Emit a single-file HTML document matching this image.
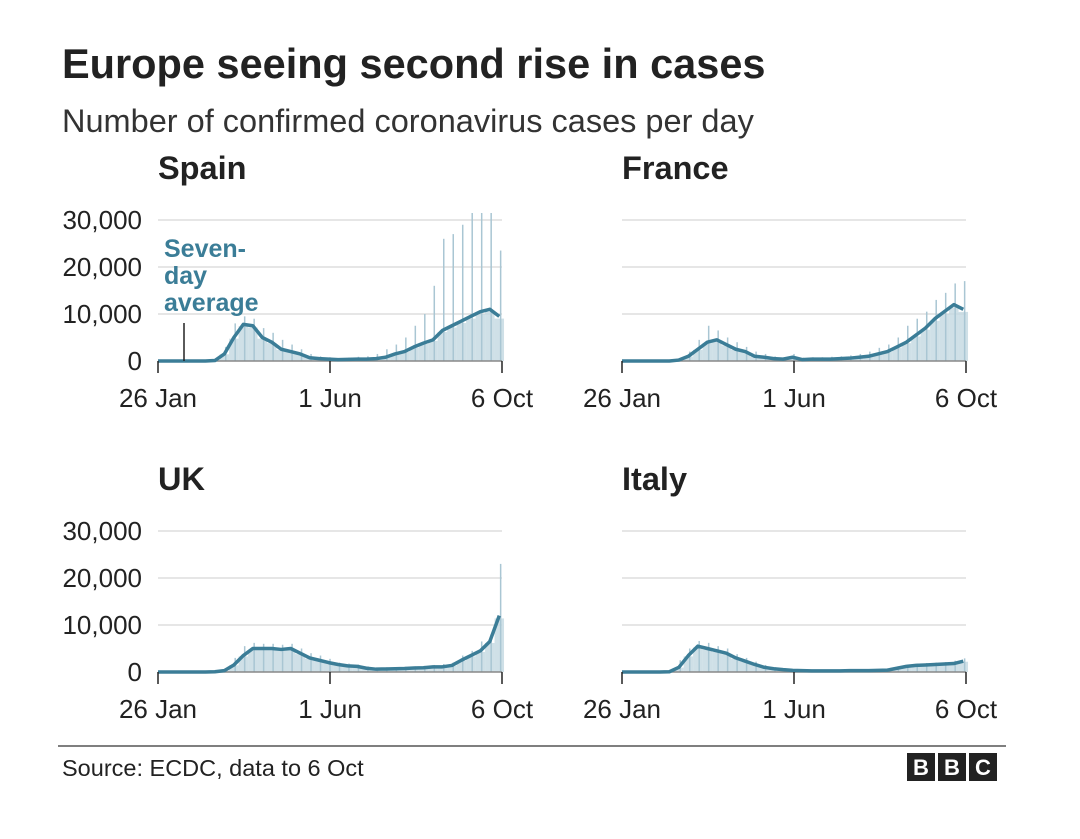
<!DOCTYPE html>
<html><head><meta charset="utf-8">
<style>
body{margin:0;background:#fff;width:1080px;height:834px;overflow:hidden;font-family:"Liberation Sans",Arial,sans-serif;}
</style></head>
<body>
<svg width="1080" height="834" viewBox="0 0 1080 834" xmlns="http://www.w3.org/2000/svg" font-family="Liberation Sans, Arial, sans-serif">
<text x="62" y="78" font-size="41.5" font-weight="bold" fill="#222">Europe seeing second rise in cases</text>
<text x="62" y="132" font-size="32.5" fill="#333">Number of confirmed coronavirus cases per day</text>
<g id="panels"></g>
<line x1="58" y1="746" x2="1006" y2="746" stroke="#555" stroke-width="1.5"/>
<text x="62" y="776" font-size="23.5" fill="#222">Source: ECDC, data to 6 Oct</text>
<g>
<rect x="907" y="753" width="28" height="28" fill="#222"/><text x="921" y="775" font-size="22" font-weight="bold" fill="#fff" text-anchor="middle">B</text>
<rect x="938" y="753" width="28" height="28" fill="#222"/><text x="952" y="775" font-size="22" font-weight="bold" fill="#fff" text-anchor="middle">B</text>
<rect x="969" y="753" width="28" height="28" fill="#222"/><text x="983" y="775" font-size="22" font-weight="bold" fill="#fff" text-anchor="middle">C</text>
</g>
</svg>
<script>
const countries = ["Spain","France","UK","Italy"];
const tickLabels = ["26 Jan","1 Jun","6 Oct"];
const tickDays = [0,127,254];
const yTicks = [0,10000,20000,30000];
const yTickLabels = ["0","10,000","20,000","30,000"];
const spainAvg = [0,0,0,0,0,0,100,1500,5000,7800,7500,5000,4000,2500,2000,1500,700,500,400,300,350,400,400,500,800,1500,2000,3000,3800,4500,6500,7500,8500,9500,10500,11000,9500];
const spainMax = [0,0,0,0,0,0,500,3000,8000,9500,9000,7000,6000,4500,3500,2500,1500,1000,800,600,700,900,1000,1500,2500,3500,5000,7500,10000,16000,26000,27000,29000,31500,31500,31500,23500];
const franceAvg = [0,0,0,0,0,0,200,1000,2500,4000,4500,3500,2500,2000,1000,800,500,400,800,300,400,400,400,500,600,800,1000,1500,2000,3000,4000,5500,7000,9000,10500,12000,11000];
const franceMax = [0,0,0,0,0,0,500,2000,4500,7500,6500,5000,4000,3000,2000,1500,1000,800,1500,700,800,800,900,1000,1200,1500,2000,2800,3500,5000,7500,9000,10500,13000,14500,16500,17000];
const ukAvg = [0,0,0,0,0,0,50,300,1500,3500,5000,5000,5000,4800,5000,4000,3000,2500,2000,1600,1300,1200,800,600,650,700,750,850,900,1100,1100,1400,2500,3500,4500,6500,12000];
const ukMax = [0,0,0,0,0,0,100,700,3000,5500,6200,6000,6000,5800,6000,5000,4000,3500,2800,2000,1800,1600,1200,900,1000,1000,1100,1200,1300,1500,1700,2000,3500,4500,6500,8000,23000];
const italyAvg = [0,0,0,0,0,50,1000,3500,5500,5000,4500,4000,3000,2300,1600,1000,700,500,350,300,250,250,250,250,300,300,300,350,400,800,1200,1400,1500,1600,1700,1800,2300];
const italyMax = [0,0,0,0,0,300,2500,5000,6600,6200,5500,5000,3800,3000,2200,1500,1000,800,600,500,400,400,400,400,450,450,450,500,600,1200,1600,1800,1900,2000,2100,2400,2900];
const avgSeries = [spainAvg,franceAvg,ukAvg,italyAvg];
const maxSeries = [spainMax,franceMax,ukMax,italyMax];
const NS="http://www.w3.org/2000/svg";
const panelsG=document.getElementById('panels');
const origins=[[158,361],[622,361],[158,672],[622,672]];
const W=344, totalDays=254, yMax=30000, H=141;
function mk(tag,attrs,parent){const e=document.createElementNS(NS,tag);for(const k in attrs)e.setAttribute(k,attrs[k]);parent.appendChild(e);return e;}
countries.forEach((c,i)=>{
  const [x0,y0]=origins[i];
  const xs=d=>x0+d/totalDays*W;
  const ys=v=>y0-v/yMax*H;
  const g=mk('g',{},panelsG);
  
  
  const t=mk('text',{x:x0,y:y0-182,'font-size':32.5,'font-weight':'bold',fill:'#222'},g);
  t.textContent=c;
  
  
  yTicks.forEach((v,j)=>{
    if(v>0){const l=mk('line',{x1:x0,x2:x0+W,y1:ys(v),y2:ys(v),stroke:'#ccc','stroke-width':1},g);
      
      }
    if(i%2===0){const tt=mk('text',{x:x0-16,y:ys(v)+9,'font-size':26,fill:'#222','text-anchor':'end'},g);
      tt.textContent=yTickLabels[j];
      
      }
  });
  const bars=mk('g',{},g);
  
  
  const av=avgSeries[i], mx=maxSeries[i];
  av.forEach((v,w)=>{
    const d=w*7;
    if(v>0){const r=mk('rect',{x:xs(d-3.5),y:ys(v*0.95),width:W*7/totalDays,height:y0-ys(v*0.95),fill:'#c3d8e1',opacity:0.8},bars);
      
      }
    if(mx[w]>0){const l=mk('line',{x1:xs(d+1),x2:xs(d+1),y1:y0,y2:ys(mx[w]),stroke:'#a9c6d3','stroke-width':1.5},bars);
      
      }
  });
  mk('line',{x1:x0,x2:x0+W,y1:y0,y2:y0,stroke:'#888','stroke-width':1.5},g);
  const pts=av.map((v,w)=>xs(Math.min(w*7,totalDays-2))+','+ys(v)).join(' ');
  const pl=mk('polyline',{points:pts,fill:'none',stroke:'#3b7d97','stroke-width':3.5,'stroke-linejoin':'round'},g);
  
  
  tickDays.forEach((d,j)=>{
    mk('line',{x1:xs(d),x2:xs(d),y1:y0,y2:y0+12,stroke:'#222','stroke-width':1.5},g);
    const tt=mk('text',{x:xs(d),y:y0+46,'font-size':26,fill:'#222','text-anchor':'middle'},g);
    tt.textContent=tickLabels[j];
    
    
  });
  if(i===0){
    const an=mk('g',{},g);
    
    
    ["Seven-","day","average"].forEach((s,k)=>{const tt=mk('text',{x:164,y:257+k*27,'font-size':25,'font-weight':'bold',fill:'#3b7d97'},an);tt.textContent=s;});
    mk('line',{x1:184,x2:184,y1:323,y2:y0,stroke:'#222','stroke-width':1.5},an);
  }
});
</script>
</body></html>
